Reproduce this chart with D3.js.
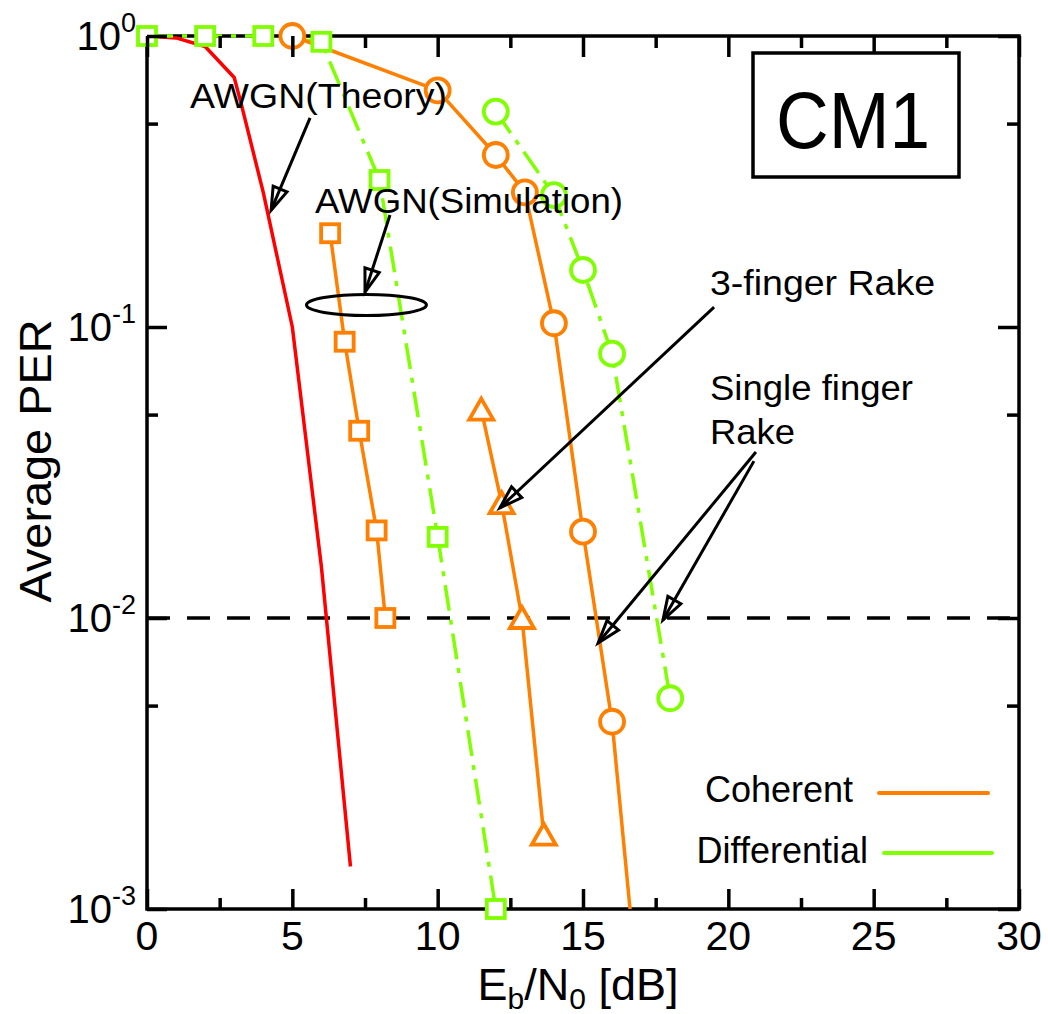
<!DOCTYPE html>
<html>
<head>
<meta charset="utf-8">
<script src="https://cdn.jsdelivr.net/npm/d3@7"></script>
<style>
  html, body { margin: 0; padding: 0; background: #fff; }
  svg { display: block; font-family: "Liberation Sans", Arial, sans-serif; }
</style>
</head>
<body>
<script>
// ---------------- DATA ----------------
const xTicks = [0, 5, 10, 15, 20, 25, 30];
const xMinorTicks = [2.5, 7.5, 12.5, 17.5, 22.5, 27.5];
const yTickExponents = [0, -1, -2, -3];
const yMinorTicks = [0.5, 0.05, 0.005];

// AWGN theory (red, line only)
const awgnTheoryX = [0, 1, 2, 3, 3.25, 4, 5, 6, 7];
const awgnTheoryY = [1.0, 0.985, 0.92, 0.72, 0.58, 0.29, 0.1, 0.015, 0.0014];

// AWGN simulation, coherent (orange squares)
const awgnSimCohX = [6.3, 6.8, 7.3, 7.9, 8.2];
const awgnSimCohY = [0.21, 0.089, 0.044, 0.020, 0.010];

// AWGN simulation, differential (green squares, dash-dot)
const awgnSimDiffX = [0, 2, 4, 6, 8, 10, 12];
const awgnSimDiffY = [1.0, 1.0, 1.0, 0.955, 0.32, 0.019, 0.001];

// Single finger Rake, coherent (orange circles)
const singleCohX = [5, 10, 12, 13, 14, 15, 16, 17];
const singleCohY = [1.0, 0.65, 0.39, 0.29, 0.103, 0.0198, 0.0044, 0.0004];

// Single finger Rake, differential (green circles, dash-dot)
const singleDiffX = [12, 14, 15, 16, 18];
const singleDiffY = [0.55, 0.284, 0.157, 0.081, 0.0053];

// 3-finger Rake, coherent (orange triangles)
const threeCohX = [11.5, 12.2, 12.9, 13.65];
const threeCohY = [0.052, 0.0248, 0.010, 0.0018];

const targetPER = 0.01;

// ---------------- LAYOUT / STYLE ----------------
const W = 1048, H = 1014;
const plot = { left: 147, right: 1019, top: 36, bottom: 909 };
const ORANGE = "#ff8000", GREEN = "#80ff00", RED = "#ff0000";
const LW = 3.5;
const DASHDOT = "26,9,5,9";

const svg = d3.select("body").append("svg")
  .attr("width", W).attr("height", H).attr("viewBox", `0 0 ${W} ${H}`);
svg.append("rect").attr("width", W).attr("height", H).attr("fill", "#fff");

const x = d3.scaleLinear().domain([0, 30]).range([plot.left, plot.right]);
const y = d3.scaleLog().domain([1e-3, 1]).range([plot.bottom, plot.top]);

svg.append("defs").append("clipPath").attr("id", "clip")
  .append("rect").attr("x", plot.left).attr("y", plot.top - 6)
  .attr("width", plot.right - plot.left).attr("height", plot.bottom - plot.top + 6);

// frame
svg.append("rect")
  .attr("x", plot.left).attr("y", plot.top)
  .attr("width", plot.right - plot.left).attr("height", plot.bottom - plot.top)
  .attr("fill", "none").attr("stroke", "#000").attr("stroke-width", LW);

// target line 10^-2
svg.append("line")
  .attr("x1", x(0)).attr("x2", x(30)).attr("y1", y(targetPER)).attr("y2", y(targetPER))
  .attr("stroke", "#000").attr("stroke-width", LW).attr("stroke-dasharray", "23,17");

// series
const series = [
  { xs: awgnTheoryX, ys: awgnTheoryY, color: RED, dash: null, marker: null },
  { xs: awgnSimDiffX, ys: awgnSimDiffY, color: GREEN, dash: DASHDOT, marker: "square" },
  { xs: singleDiffX, ys: singleDiffY, color: GREEN, dash: DASHDOT, marker: "circle" },
  { xs: awgnSimCohX, ys: awgnSimCohY, color: ORANGE, dash: null, marker: "square" },
  { xs: singleCohX, ys: singleCohY, color: ORANGE, dash: null, marker: "circle" },
  { xs: threeCohX, ys: threeCohY, color: ORANGE, dash: null, marker: "triangle" }
];

const line = d3.line().x(d => x(d[0])).y(d => y(d[1]));
const linesG = svg.append("g").attr("clip-path", "url(#clip)");
series.forEach(s => {
  const pts = s.xs.map((v, i) => [v, s.ys[i]]);
  linesG.append("path").datum(pts)
    .attr("d", line).attr("fill", "none")
    .attr("stroke", s.color).attr("stroke-width", LW)
    .attr("stroke-linejoin", "round")
    .attr("stroke-dasharray", s.dash);
});

// markers
const markG = svg.append("g");
series.forEach(s => {
  if (!s.marker) return;
  const pts = s.xs.map((v, i) => [v, s.ys[i]]).filter(p => p[1] >= 1e-3);
  const g = markG.selectAll(null).data(pts).enter().append("g")
    .attr("transform", d => `translate(${x(d[0])},${y(d[1])})`);
  const st = sel => sel.attr("fill", "#fff").attr("stroke", s.color).attr("stroke-width", 3.8);
  if (s.marker === "circle") g.append("circle").attr("r", 12).call(st);
  if (s.marker === "square") g.append("rect").attr("x", -9).attr("y", -9).attr("width", 18).attr("height", 18).call(st);
  if (s.marker === "triangle") g.append("path").attr("d", "M0,-11L12,10L-12,10Z").attr("stroke-linejoin", "miter").call(st);
});

// ticks (inward)
function tickAxis(axis, tr, size) {
  const g = svg.append("g").attr("transform", tr).call(axis.tickSize(-size).tickFormat(""));
  g.select(".domain").remove();
  g.selectAll(".tick line").attr("stroke", "#000").attr("stroke-width", LW);
}
tickAxis(d3.axisBottom(x).tickValues(xTicks), `translate(0,${plot.bottom})`, 20);
tickAxis(d3.axisBottom(x).tickValues(xMinorTicks), `translate(0,${plot.bottom})`, 11);
tickAxis(d3.axisTop(x).tickValues(xTicks), `translate(0,${plot.top})`, 21);
tickAxis(d3.axisTop(x).tickValues(xMinorTicks), `translate(0,${plot.top})`, 12);
const yMajorVals = yTickExponents.map(e => Math.pow(10, e));
tickAxis(d3.axisLeft(y).tickValues(yMajorVals), `translate(${plot.left},0)`, 20);
tickAxis(d3.axisLeft(y).tickValues(yMinorTicks), `translate(${plot.left},0)`, 11);
tickAxis(d3.axisRight(y).tickValues(yMajorVals), `translate(${plot.right},0)`, 21);
tickAxis(d3.axisRight(y).tickValues(yMinorTicks), `translate(${plot.right},0)`, 12);

// x tick labels
svg.append("g").selectAll("text").data(xTicks).enter().append("text")
  .attr("x", d => x(d)).attr("y", 950).attr("text-anchor", "middle")
  .attr("font-size", 41).text(d => d);

// y tick labels with superscripts
const yl = svg.append("g").selectAll("text").data(yTickExponents).enter().append("text")
  .attr("x", 136).attr("y", d => y(Math.pow(10, d)) + 14).attr("text-anchor", "end");
yl.append("tspan").attr("font-size", 40).text("10");
yl.append("tspan").attr("font-size", 27).attr("dy", -18).text(d => d === 0 ? "0" : "-" + Math.abs(d));

// axis titles
const xt = svg.append("text").attr("x", 578).attr("y", 1000).attr("text-anchor", "middle").attr("font-size", 45);
xt.append("tspan").text("E");
xt.append("tspan").attr("font-size", 30).attr("dy", 9).text("b");
xt.append("tspan").attr("dy", -9).text("/N");
xt.append("tspan").attr("font-size", 30).attr("dy", 9).text("0");
xt.append("tspan").attr("dy", -9).text(" [dB]");

svg.append("text").attr("transform", "translate(51,461) rotate(-90)")
  .attr("text-anchor", "middle").attr("font-size", 45)
  .attr("textLength", 283).attr("lengthAdjust", "spacingAndGlyphs")
  .text("Average PER");

// annotations text
const notes = [
  { t: "AWGN(Theory)", x: 190, y: 108, w: 257 },
  { t: "AWGN(Simulation)", x: 315, y: 213, w: 308 },
  { t: "3-finger Rake", x: 710, y: 295, w: 225 },
  { t: "Single finger", x: 710, y: 400, w: 203 },
  { t: "Rake", x: 710, y: 444, w: 85 }
];
svg.append("g").selectAll("text").data(notes).enter().append("text")
  .attr("x", d => d.x).attr("y", d => d.y).attr("font-size", 35)
  .attr("textLength", d => d.w).attr("lengthAdjust", "spacingAndGlyphs")
  .text(d => d.t);

// arrows (in data coordinates)
const arrows = [
  [5.61, 0.523, 4.27, 0.252],
  [8.36, 0.2426, 7.50, 0.1318],
  [19.51, 0.117, 12.14, 0.0239],
  [20.95, 0.0372, 15.52, 0.0082],
  [20.88, 0.0346, 17.75, 0.00984]
];
const ag = svg.append("g");
arrows.forEach(a => {
  const x1 = x(a[0]), y1 = y(a[1]), x2 = x(a[2]), y2 = y(a[3]);
  const ang = Math.atan2(y2 - y1, x2 - x1);
  const L = 23, Wd = 7.5;
  const bx = x2 - L * Math.cos(ang), by = y2 - L * Math.sin(ang);
  const px = -Math.sin(ang) * Wd, py = Math.cos(ang) * Wd;
  ag.append("line").attr("x1", x1).attr("y1", y1).attr("x2", x2).attr("y2", y2)
    .attr("stroke", "#000").attr("stroke-width", 3);
  ag.append("path")
    .attr("d", `M${x2},${y2}L${bx + px},${by + py}L${bx - px},${by - py}Z`)
    .attr("fill", "none").attr("stroke", "#000").attr("stroke-width", 3)
    .attr("stroke-linejoin", "miter");
});

// ellipse around AWGN simulation curves
svg.append("ellipse").attr("cx", x(7.55)).attr("cy", y(0.119)).attr("rx", 60).attr("ry", 10.5)
  .attr("fill", "none").attr("stroke", "#000").attr("stroke-width", 3);

// CM1 box
svg.append("rect").attr("x", 753).attr("y", 53).attr("width", 206).attr("height", 124)
  .attr("fill", "#fff").attr("stroke", "#000").attr("stroke-width", 3.5);
svg.append("text").attr("x", 776).attr("y", 148).attr("font-size", 80)
  .attr("textLength", 154).attr("lengthAdjust", "spacingAndGlyphs").text("CM1");

// legend
const legend = [
  { t: "Coherent", color: ORANGE, tx: 853, ty: 802, x1: 879, x2: 988, ly: 793 },
  { t: "Differential", color: GREEN, tx: 868, ty: 863, x1: 884, x2: 992, ly: 853 }
];
const lg = svg.append("g");
legend.forEach(l => {
  lg.append("text").attr("x", l.tx).attr("y", l.ty).attr("text-anchor", "end")
    .attr("font-size", 36).text(l.t);
  lg.append("line").attr("x1", l.x1).attr("x2", l.x2).attr("y1", l.ly).attr("y2", l.ly)
    .attr("stroke", l.color).attr("stroke-width", 4).attr("stroke-linecap", "round");
});
</script>
</body>
</html>
